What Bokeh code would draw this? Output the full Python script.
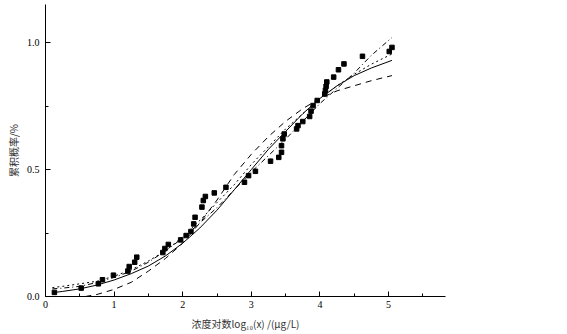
from bokeh.plotting import figure
from bokeh.embed import file_html
from bokeh.resources import INLINE
from bokeh.models import Range1d, FixedTicker, CustomJSTickFormatter

# observed points
obs_x = [0.13, 0.52, 0.77, 0.83, 0.99, 1.20, 1.22, 1.30, 1.33, 1.71, 1.74, 1.79, 1.97,
         2.05, 2.12, 2.16, 2.18, 2.28, 2.30, 2.33, 2.46, 2.63, 2.90, 2.96, 3.06,
         3.28, 3.40, 3.44, 3.44, 3.46, 3.48, 3.66, 3.68, 3.75, 3.85, 3.87, 3.90, 3.96,
         4.07, 4.08, 4.09, 4.10, 4.20, 4.27, 4.35, 4.62, 5.01, 5.05]
obs_y = [0.016, 0.033, 0.050, 0.066, 0.084, 0.100, 0.118, 0.135, 0.155, 0.173, 0.189, 0.205, 0.223,
         0.240, 0.256, 0.286, 0.312, 0.352, 0.378, 0.394, 0.408, 0.430, 0.450, 0.476, 0.493,
         0.533, 0.548, 0.568, 0.594, 0.621, 0.640, 0.660, 0.673, 0.689, 0.709, 0.730, 0.752, 0.772,
         0.798, 0.812, 0.828, 0.845, 0.864, 0.893, 0.916, 0.946, 0.965, 0.981]

# fitted curves
fit_x = [0.1, 0.25, 0.5, 0.75, 1.0, 1.25, 1.5, 1.75, 2.0, 2.25, 2.5, 2.75, 3.0,
         3.25, 3.5, 3.75, 4.0, 4.25, 4.5, 4.75, 5.05]
solid_y = [0.015, 0.020, 0.030, 0.045, 0.065, 0.090, 0.120, 0.160, 0.210, 0.270, 0.340, 0.420, 0.500,
           0.580, 0.650, 0.720, 0.780, 0.830, 0.870, 0.900, 0.930]
dashdot_y = [0.030, 0.033, 0.040, 0.055, 0.075, 0.100, 0.135, 0.180, 0.230, 0.290, 0.350, 0.420, 0.490,
             0.555, 0.620, 0.690, 0.760, 0.820, 0.880, 0.950, 1.020]
dotted_y = [0.035, 0.040, 0.050, 0.060, 0.080, 0.105, 0.140, 0.180, 0.235, 0.300, 0.370, 0.440, 0.520,
            0.590, 0.660, 0.720, 0.780, 0.830, 0.875, 0.915, 0.955]
dash_x = [0.58, 0.75, 1.0, 1.25, 1.5, 1.75, 2.0, 2.25, 2.5, 2.75, 3.0,
          3.25, 3.5, 3.75, 4.0, 4.25, 4.5, 4.75, 5.05]
dash_y = [0.0, 0.008, 0.028, 0.056, 0.100, 0.150, 0.210, 0.290, 0.380, 0.480, 0.560,
          0.630, 0.690, 0.740, 0.780, 0.810, 0.830, 0.850, 0.870]

x_ticks = [0, 1, 2, 3, 4, 5]
y_ticks = [0.0, 0.5, 1.0]

p = figure(width=567, height=334, output_backend="svg", toolbar_location=None,
           x_range=Range1d(0, 5.83), y_range=Range1d(0, 1.15),
           min_border_left=45, min_border_right=122, min_border_top=4, min_border_bottom=38)
p.outline_line_color = None
p.xgrid.visible = False
p.ygrid.visible = False
p.background_fill_color = "white"
p.border_fill_color = "white"

p.line(fit_x, solid_y, line_color="black", line_width=1)
p.line(dash_x, dash_y, line_color="black", line_width=1, line_dash="6 5")
p.line(fit_x, dashdot_y, line_color="black", line_width=1, line_dash="5 3 1 3")
p.line(fit_x, dotted_y, line_color="black", line_width=1, line_dash="2 3")
p.scatter(obs_x, obs_y, marker="square", size=4.5, fill_color="black", line_color="black")

for ax in (p.xaxis[0], p.yaxis[0]):
    ax.axis_line_color = "black"
    ax.major_tick_in = 5
    ax.major_tick_out = 0
    ax.minor_tick_in = 3
    ax.minor_tick_out = 0
    ax.major_label_text_font = "Liberation Serif"
    ax.major_label_text_font_size = "10px"
    ax.major_label_text_color = "black"
    ax.axis_label_text_font = "Noto Sans CJK SC"
    ax.axis_label_text_font_size = "10px"
    ax.axis_label_text_font_style = "normal"
    ax.axis_label_text_color = "#333333"

p.xaxis.ticker = FixedTicker(ticks=x_ticks, minor_ticks=[0.5, 1.5, 2.5, 3.5, 4.5, 5.5])
p.yaxis.ticker = FixedTicker(ticks=y_ticks, minor_ticks=[0.25, 0.75])
p.yaxis.formatter = CustomJSTickFormatter(code="return tick.toFixed(1);")
p.xaxis.major_label_standoff = 4
p.yaxis.major_label_standoff = 6
p.xaxis.axis_label = "浓度对数log₁₀(x) /(μg/L)"
p.yaxis.axis_label = "累积概率/%"
p.xaxis.axis_label_standoff = 5
p.yaxis.axis_label_standoff = 3

open("out.html", "w").write(file_html(p, INLINE))
